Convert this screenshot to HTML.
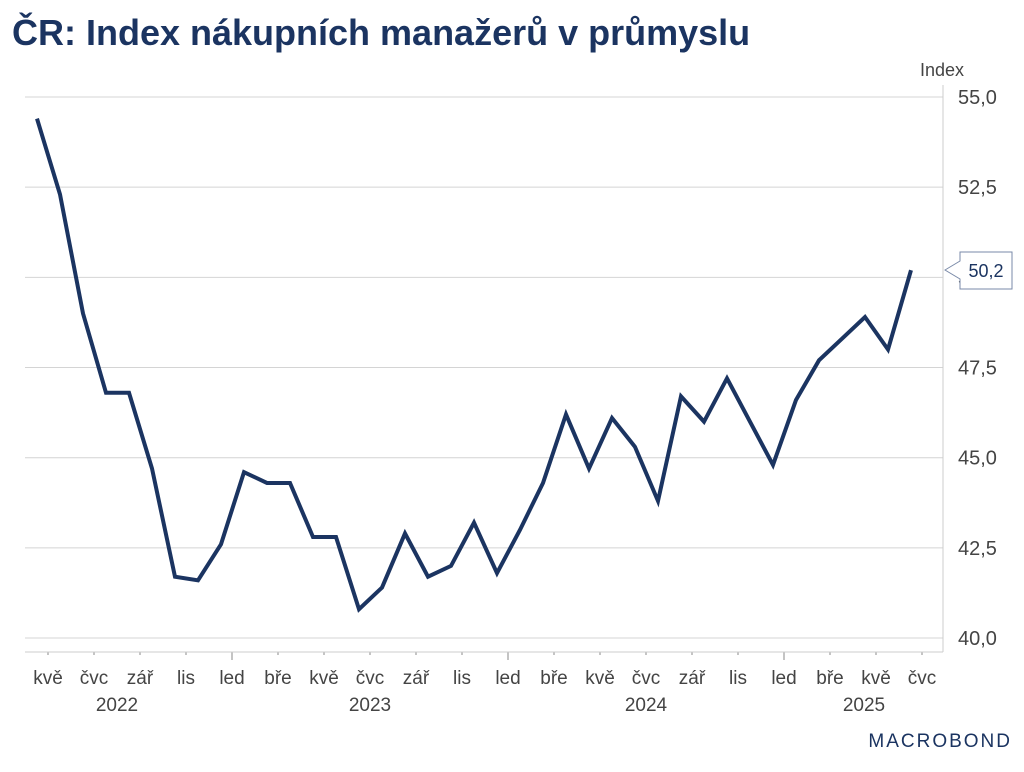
<!DOCTYPE html>
<html><head><meta charset="utf-8"><style>
body{margin:0;background:#fff;width:1024px;height:767px;overflow:hidden;font-family:"Liberation Sans",sans-serif}
</style></head><body>
<svg width="1024" height="767">
<text x="12" y="45" font-size="36" font-weight="bold" fill="#1b3461">ČR: Index nákupních manažerů v průmyslu</text>
<text x="942" y="76" font-size="18" fill="#444" text-anchor="middle">Index</text>
<g id="grid"></g><g id="xaxis"></g>
<line x1="943" y1="85" x2="943" y2="652" stroke="#ccc"/>
<line x1="25" y1="652" x2="943" y2="652" stroke="#ccc"/>
<path id="line" fill="none" stroke="#1b3461" stroke-width="4" stroke-linejoin="miter"/>
<g>
<path d="M945,270 L960,261 L960,252 L1012,252 L1012,289 L960,289 L960,279 Z" fill="#fff" stroke="#7a8aa8"/>
<text id="lastv" x="986" y="277" font-size="18" fill="#1b3461" text-anchor="middle"></text>
</g>
<text x="1012" y="747" font-size="19" fill="#1b3461" text-anchor="end" letter-spacing="2">MACROBOND</text>
</svg>
<script>
const values=[54.4,52.3,49.0,46.8,46.8,44.7,41.7,41.6,42.6,44.6,44.3,44.3,42.8,42.8,40.8,41.4,42.9,41.7,42.0,43.2,41.8,43.0,44.3,46.2,44.7,46.1,45.3,43.8,46.7,46.0,47.2,46.0,44.8,46.6,47.7,48.3,48.9,48.0,50.2];
const yTicks=[40,42.5,45,47.5,50,52.5,55];
const monthLabels=["kvě","čvc","zář","lis","led","bře","kvě","čvc","zář","lis","led","bře","kvě","čvc","zář","lis","led","bře","kvě","čvc"];
const years=["2022","2023","2024","2025"];
const NS="http://www.w3.org/2000/svg";
const y=v=>97+(55-v)*36.07;
const x=i=>37+i*23;
function mk(t,a,p){const e=document.createElementNS(NS,t);for(const k in a)e.setAttribute(k,a[k]);p.appendChild(e);return e;}
const g=document.getElementById('grid');
yTicks.forEach(v=>{
 const l=mk('line',{x1:25,x2:943,y1:y(v),y2:y(v),stroke:'#d4d4d4'},g);
 
 
 const t=mk('text',{x:958,y:y(v)+7,'font-size':20,fill:'#444'},g);
 t.textContent=v.toFixed(1).replace('.',',');
 
 
});
const xa=document.getElementById('xaxis');
monthLabels.forEach((m,k)=>{
 const px=48+k*46;
 const big=m==="led";
 mk('line',{x1:px,x2:px,y1:652,y2:big?660:655,stroke:'#888'},xa);
 const t=mk('text',{x:px,y:684,'font-size':19,fill:'#444','text-anchor':'middle'},xa);
 t.textContent=m;
 
 
});
const yearX=[117,370,646,864];
years.forEach((yr,k)=>{
 const t=mk('text',{x:yearX[k],y:711,'font-size':19,fill:'#444','text-anchor':'middle'},xa);
 t.textContent=yr;
 
 
});
document.getElementById('line').setAttribute('d',values.map((v,i)=>(i?'L':'M')+x(i)+','+y(v)).join(' '));
document.getElementById('lastv').textContent=values[values.length-1].toFixed(1).replace('.',',');
</script>
</body></html>
